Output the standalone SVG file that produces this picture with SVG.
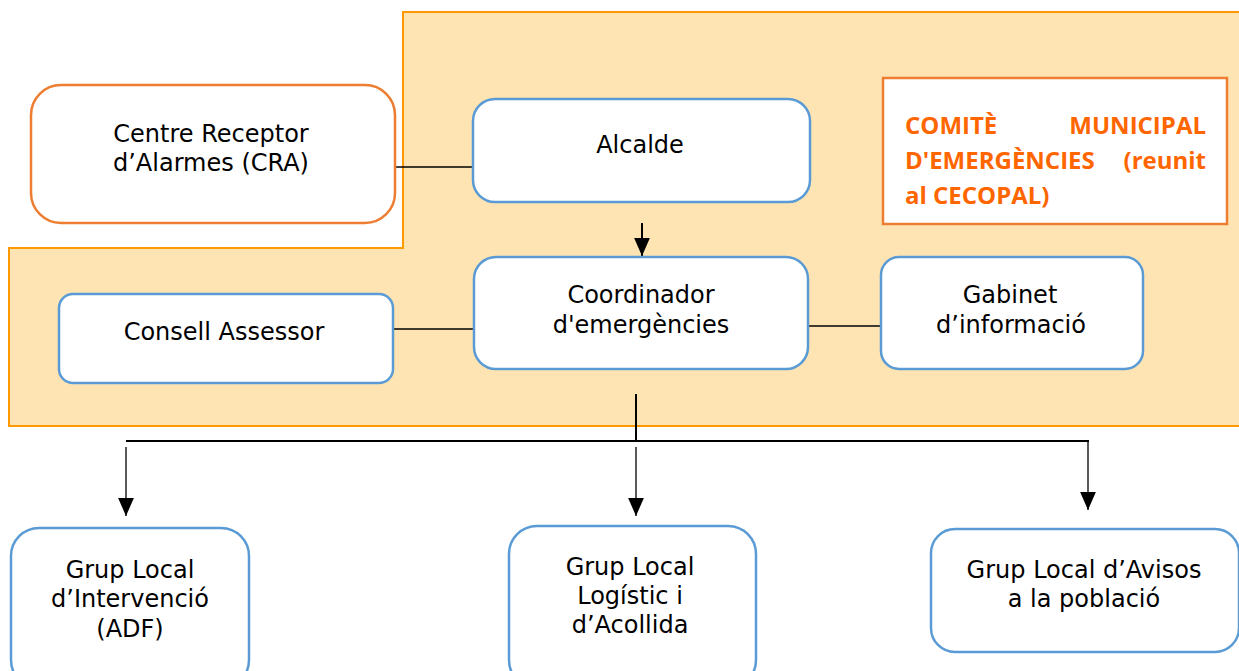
<svg xmlns="http://www.w3.org/2000/svg" width="1239" height="671" viewBox="0 0 1239 671">
<style>
.node{fill:#fff;stroke:#5B9BD5;stroke-width:2.5}
.onode{fill:#fff;stroke:#ED7D31;stroke-width:2.5}
.t{font-family:"DejaVu Sans",Verdana,sans-serif;font-size:24px;fill:#000;text-anchor:middle}
.ct{font-family:"Open Sans",sans-serif;font-weight:bold;font-size:24px;fill:#FF6600}
.ln{stroke:#000;stroke-width:1.3;fill:none}
.lnb{stroke:#000;stroke-width:2;fill:none}
</style>
<defs>
<marker id="ah" markerUnits="userSpaceOnUse" markerWidth="18" markerHeight="16" refX="16" refY="7" orient="auto" viewBox="0 0 16 14">
<path d="M0,0 L16,7 L0,14 Z" fill="#000"/>
</marker>
</defs>
<g id="comite-zone">
<path d="M403,12 L1245,12 L1245,426 L9,426 L9,248 L403,248 Z" fill="#FDE4B2" stroke="#FF9900" stroke-width="2"/>
</g>
<g id="connectors">
<line class="ln" x1="395" y1="167" x2="475" y2="167"/>
<line class="lnb" x1="642" y1="223" x2="642" y2="256" marker-end="url(#ah)"/>
<line class="ln" x1="393" y1="329" x2="474" y2="329"/>
<line class="ln" x1="807" y1="326" x2="881" y2="326"/>
<line class="lnb" x1="636" y1="394" x2="636" y2="441"/>
<line class="lnb" x1="126" y1="441" x2="1089" y2="441"/>
<line class="ln" x1="126" y1="447" x2="126" y2="516" marker-end="url(#ah)"/>
<line class="ln" x1="636" y1="447" x2="636" y2="516" marker-end="url(#ah)"/>
<line class="ln" x1="1088" y1="441" x2="1088" y2="510" marker-end="url(#ah)"/>
</g>
<g id="cra">
<rect class="onode" x="31" y="85" width="364" height="138" rx="30"/>
<text class="t" x="211" y="142">Centre Receptor</text>
<text class="t" x="211" y="171">d’Alarmes (CRA)</text>
</g>
<g id="alcalde">
<rect class="node" x="473" y="99" width="337" height="103" rx="22"/>
<text class="t" x="640" y="153">Alcalde</text>
</g>
<g id="comite">
<rect x="883" y="78" width="344" height="146" fill="#fff" stroke="#ED7D31" stroke-width="2.5"/>
<text class="ct" x="905" y="134">COMITÈ</text>
<text class="ct" x="1206" y="134" text-anchor="end">MUNICIPAL</text>
<text class="ct" x="905" y="169">D'EMERGÈNCIES</text>
<text class="ct" x="1206" y="169" text-anchor="end">(reunit</text>
<text class="ct" x="905" y="204">al CECOPAL)</text>
</g>
<g id="coordinador">
<rect class="node" x="474" y="257" width="334" height="112" rx="22"/>
<text class="t" x="641" y="303">Coordinador</text>
<text class="t" x="641" y="333">d'emergències</text>
</g>
<g id="consell">
<rect class="node" x="59" y="294" width="334" height="89" rx="14"/>
<text class="t" x="224" y="340">Consell Assessor</text>
</g>
<g id="gabinet">
<rect class="node" x="881" y="257" width="262" height="112" rx="18"/>
<text class="t" x="1010" y="303">Gabinet</text>
<text class="t" x="1011" y="333">d’informació</text>
</g>
<g id="grup-intervencio">
<rect class="node" x="11" y="528" width="238" height="160" rx="28"/>
<text class="t" x="130" y="578">Grup Local</text>
<text class="t" x="130" y="607">d’Intervenció</text>
<text class="t" x="130" y="637">(ADF)</text>
</g>
<g id="grup-logistic">
<rect class="node" x="509" y="526" width="247" height="162" rx="28"/>
<text class="t" x="630" y="575">Grup Local</text>
<text class="t" x="630" y="604">Logístic i</text>
<text class="t" x="630" y="633">d’Acollida</text>
</g>
<g id="grup-avisos">
<rect class="node" x="931" y="529" width="308" height="123" rx="24"/>
<text class="t" x="1084" y="578">Grup Local d’Avisos</text>
<text class="t" x="1084" y="607">a la població</text>
</g>
</svg>
